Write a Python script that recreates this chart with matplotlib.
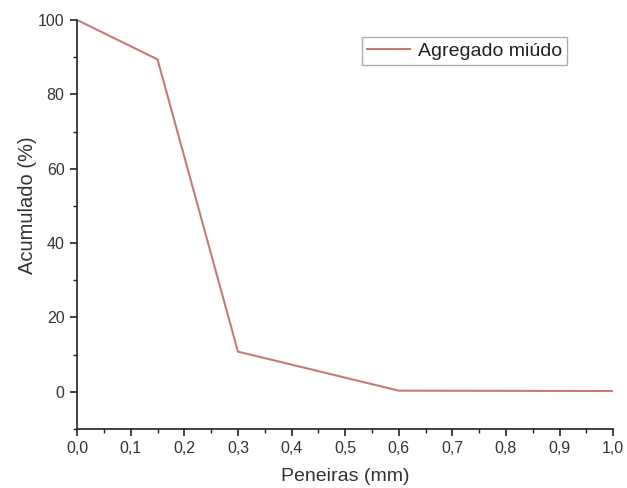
import matplotlib
matplotlib.use("Agg")
import matplotlib.pyplot as plt
from matplotlib.ticker import MultipleLocator, FuncFormatter

plt.rcParams['font.family'] = ['Liberation Sans', 'DejaVu Sans']

peneiras = [0.0, 0.15, 0.3, 0.6, 1.0]
acumulado = [100.0, 89.4, 10.8, 0.3, 0.2]
serie_label = "Agregado miúdo"

fig = plt.figure(figsize=(6.27, 4.88), dpi=100)
ax = fig.add_axes([0.123, 0.121, 0.855, 0.838])
ax.plot(peneiras, acumulado, color='#c97878', lw=1.5, label=serie_label)

ax.set_xlim(0, 1.0)
ax.set_ylim(-10, 100)
ax.spines['top'].set_visible(False)
ax.spines['right'].set_visible(False)
for s in ('left', 'bottom'):
    ax.spines[s].set_linewidth(1.2)
    ax.spines[s].set_color('#222222')

ax.xaxis.set_major_locator(MultipleLocator(0.1))
ax.xaxis.set_minor_locator(MultipleLocator(0.05))
ax.yaxis.set_major_locator(MultipleLocator(20))
ax.yaxis.set_minor_locator(MultipleLocator(10))
ax.xaxis.set_major_formatter(FuncFormatter(lambda v, p: f"{v:.1f}".replace('.', ',')))
ax.tick_params(which='major', direction='out', length=5, width=1.2, labelsize=11.5, colors='#222222',
               labelcolor='#333333', pad=4)
ax.tick_params(which='minor', direction='out', length=3, width=1.0, colors='#222222')

ax.set_xlabel("Peneiras (mm)", fontsize=14, color='#333333', labelpad=8)
ax.set_ylabel("Acumulado (%)", fontsize=14.5, color='#333333')
ax.yaxis.set_label_coords(-0.075, 0.548)

leg = ax.legend(loc='upper right', bbox_to_anchor=(0.914, 0.958), fontsize=14, frameon=True, fancybox=False,
                edgecolor='#999999', handlelength=2.25, borderpad=0.25, handletextpad=0.4, borderaxespad=0)
leg.get_frame().set_linewidth(1.0)
for t in leg.get_texts():
    t.set_color('#222222')

fig.savefig("out.png", dpi=100, facecolor='white')
